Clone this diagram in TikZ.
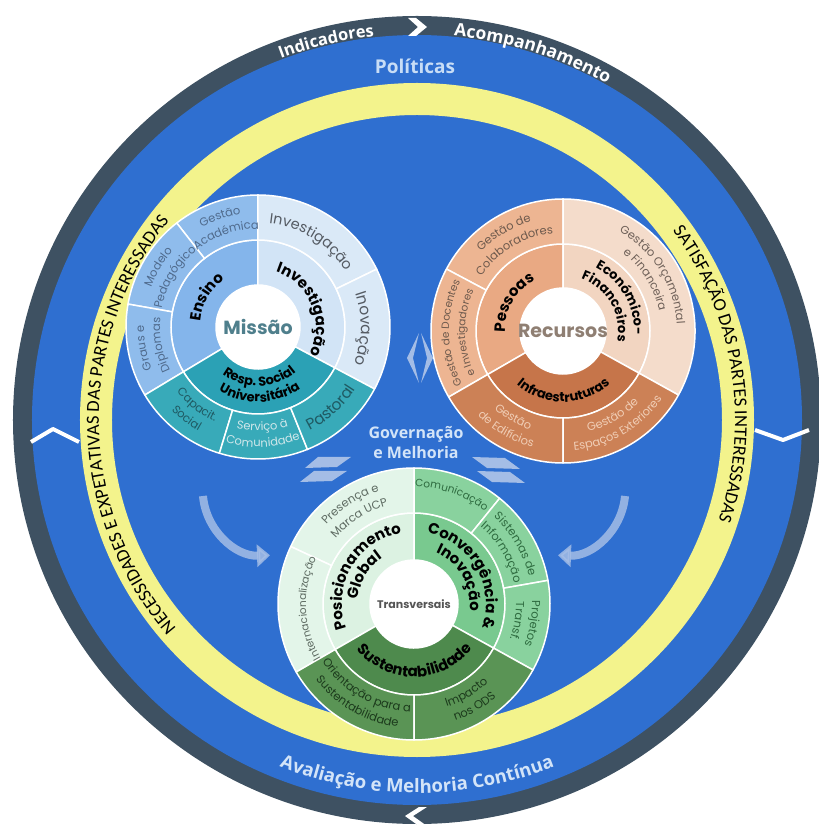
\documentclass[tikz,border=0pt]{standalone}
\usepackage{fontspec}
\usetikzlibrary{decorations.text,arrows.meta}
\newfontfamily\pop{Poppins}
\newfontfamily\ops{Open Sans}
\newfontfamily\carl{Carlito}
\definecolor{ringc}{HTML}{3E5162}
\definecolor{bbg}{HTML}{2F6FD0}
\definecolor{yel}{HTML}{F3F38C}
\definecolor{ensM}{HTML}{84B5EB}
\definecolor{ensO}{HTML}{8FBCEC}
\definecolor{invM}{HTML}{D2E4F6}
\definecolor{invO}{HTML}{DAE9F7}
\definecolor{rspM}{HTML}{2BA1B5}
\definecolor{rspO}{HTML}{38AAB9}
\definecolor{pesM}{HTML}{E9A983}
\definecolor{pesO}{HTML}{EDB592}
\definecolor{ecoM}{HTML}{F2D5C1}
\definecolor{ecoO}{HTML}{F4DCCB}
\definecolor{infM}{HTML}{C6754A}
\definecolor{infO}{HTML}{CC8156}
\definecolor{posM}{HTML}{DCF2E2}
\definecolor{posO}{HTML}{E3F5E9}
\definecolor{conM}{HTML}{79C98F}
\definecolor{conO}{HTML}{89D29E}
\definecolor{susM}{HTML}{4E8A4D}
\definecolor{susO}{HTML}{5A9455}
\definecolor{lightt}{HTML}{D3E4F8}
\definecolor{arrc}{HTML}{A4BDE6}
\definecolor{ensT}{HTML}{4F6A8C}
\definecolor{invT}{HTML}{555B63}
\definecolor{rspT}{HTML}{1F5A63}
\definecolor{rspL}{HTML}{CFE7EA}
\definecolor{pesT}{HTML}{6E5A4D}
\definecolor{ecoT}{HTML}{6E6058}
\definecolor{infT}{HTML}{F0CDB5}
\definecolor{posT}{HTML}{5E6B62}
\definecolor{conT}{HTML}{2E6B3F}
\definecolor{susT}{HTML}{1C3A1C}
\definecolor{misT}{HTML}{4F7F8C}
\definecolor{recT}{HTML}{8F7F73}
\definecolor{traT}{HTML}{555555}
\definecolor{polT}{HTML}{C8DDF6}
\newcommand{\fOs}{\pop\fontsize{11.5}{13}\selectfont}
\newcommand{\fOx}{\pop\fontsize{10.5}{12}\selectfont}
\newcommand{\fOl}{\pop\fontsize{14.5}{16}\selectfont}
\newcommand{\fOL}{\pop\fontsize{15.5}{17}\selectfont}
\newcommand{\fM}{\pop\bfseries\fontsize{15}{16}\selectfont}
\newcommand{\fMs}{\pop\bfseries\fontsize{13}{14}\selectfont}
\newcommand{\sect}[7]{\filldraw[fill=#7,draw=white,line width=1.5pt,line join=round] ([shift={(#1,#2)}]#5:#4) arc[start angle=#5,end angle=#6,radius=#4pt] -- ([shift={(#1,#2)}]#6:#3) arc[start angle=#6,end angle=#5,radius=#3pt] -- cycle;}
\newcommand{\cwt}[8]{\pgfmathsetmacro\angA{#4+#5}\pgfmathsetmacro\angB{#4-#5}\path[decorate,decoration={text along path,text align=center,text color=#6,text={|#7|#8}}] ([shift={(#1,#2)}]\angA:#3) arc[start angle=\angA,end angle=\angB,radius=#3pt];}
\newcommand{\ccwt}[8]{\pgfmathsetmacro\angA{#4-#5}\pgfmathsetmacro\angB{#4+#5}\path[decorate,decoration={text along path,text align=center,text color=#6,text={|#7|#8}}] ([shift={(#1,#2)}]\angA:#3) arc[start angle=\angA,end angle=\angB,radius=#3pt];}
\begin{document}
\begin{tikzpicture}[x=1pt,y=1pt]
\useasboundingbox (-417,-406) rectangle (401,420);
\fill[white] (-417,-406) rectangle (401,420);
% outer rings
\fill[ringc] (0,0) circle (404pt);
\fill[bbg] (0,0) circle (385pt);
\fill[yel,even odd rule] (0,0) circle (337pt) circle (305pt);
% chevrons and zigzags
\fill[white] (-9,402) -- (-1,402) -- (10,393) -- (-1,384) -- (-9,384) -- (1,393) -- cycle;
\fill[white] (10,-387) -- (2,-387) -- (-12,-396) -- (2,-406) -- (10,-406) -- (-4,-396) -- cycle;
\draw[white,line width=4pt,line join=round] (-386,-22) -- (-364,-9) -- (-338,-22);
\draw[white,line width=4pt,line join=round] (338,-10) -- (366,-20) -- (392,-10);
% ring texts
\cwt{0}{0}{386}{103.5}{20}{white}{\ops\bfseries\fontsize{16.5}{16.5}\selectfont}{Indicadores}
\cwt{0}{0}{386}{72.5}{25}{white}{\ops\bfseries\fontsize{17.5}{17.5}\selectfont}{Acompanhamento}
\ccwt{0}{0}{373}{270}{35}{lightt}{\ops\bfseries\fontsize{18.5}{18.5}\selectfont}{Avaliação e Melhoria Contínua}
\node[font=\ops\bfseries\fontsize{19}{19}\selectfont,text=polT] (pol) at (-2,354) {Políticas};
\node[font=\ops\bfseries\fontsize{16}{20}\selectfont,text=lightt,align=center] (gov) at (-1,-23) {Governação\\e Melhoria};
% decorative arrows
\fill[arrc] (2,87) -- (-10,62) -- (2,37) -- (-4,62) -- cycle;
\fill[arrc] (4,87) -- (16,62) -- (4,37) -- (10,62) -- cycle;
\fill[arrc] (-99,-37) -- (-66,-37) -- (-80,-47) -- (-112,-48) -- cycle;
\fill[arrc] (-103,-51) -- (-70,-51) -- (-85,-61) -- (-117,-62) -- cycle;
\fill[arrc] (55,-37) -- (88,-38) -- (103,-49) -- (70,-48) -- cycle;
\fill[arrc] (60,-51) -- (93,-52) -- (108,-63) -- (75,-62) -- cycle;
\coordinate (la) at (-214,-76);
\coordinate (ra) at (208,-76);
\draw[arrc,opacity=0.85,line width=8pt,-{Triangle[length=13pt,width=22pt]}] (la) arc[start angle=185,end angle=272,radius=65pt];
\draw[arrc,opacity=0.85,line width=8pt,-{Triangle[length=13pt,width=22pt]}] (ra) arc[start angle=-5,end angle=-92,radius=65pt];
% ===== Missao =====
\sect{-159}{93}{42}{87}{90}{211}{ensM}
\sect{-159}{93}{42}{87}{-28}{90}{invM}
\sect{-159}{93}{42}{87}{211}{332}{rspM}
\sect{-159}{93}{87}{132}{90}{128}{ensO}
\sect{-159}{93}{87}{132}{128}{170}{ensO}
\sect{-159}{93}{87}{132}{170}{211}{ensO}
\sect{-159}{93}{87}{132}{26}{90}{invO}
\sect{-159}{93}{87}{132}{-28}{26}{invO}
\sect{-159}{93}{87}{132}{211}{253}{rspO}
\sect{-159}{93}{87}{132}{253}{292}{rspO}
\sect{-159}{93}{87}{132}{292}{332}{rspO}
\fill[white] (-159,93) circle (42pt);
\node[font=\pop\bfseries\fontsize{19}{19}\selectfont,text=misT] (mis) at (-159,93) {Missão};
\cwt{-159}{93}{58}{150}{70}{black}{\fM}{Ensino}
\cwt{-159}{93}{58}{22}{80}{black}{\fM}{Investigação}
\ccwt{-159}{93}{59}{271.5}{65}{black}{\fMs}{Resp. Social}
\ccwt{-159}{93}{75}{271.5}{65}{black}{\fMs}{Universitária}
\cwt{-159}{93}{114}{109}{40}{ensT}{\fOs}{Gestão}
\cwt{-159}{93}{98}{109}{40}{ensT}{\fOs}{Académica}
\cwt{-159}{93}{114}{149}{40}{ensT}{\fOs}{Modelo}
\cwt{-159}{93}{98}{149}{40}{ensT}{\fOs}{Pedagógico}
\cwt{-159}{93}{114}{190.5}{40}{ensT}{\fOs}{Graus e}
\cwt{-159}{93}{98}{190.5}{40}{ensT}{\fOs}{Diplomas}
\cwt{-159}{93}{104}{58}{45}{invT}{\fOl}{Investigação}
\cwt{-159}{93}{103}{-1}{45}{invT}{\fOL}{Inovação}
\ccwt{-159}{93}{104}{232}{40}{rspT}{\fOs}{Capacit.}
\ccwt{-159}{93}{120}{232}{40}{rspT}{\fOs}{Social}
\ccwt{-159}{93}{104}{272.5}{40}{rspL}{\fOs}{Serviço à}
\ccwt{-159}{93}{120}{272.5}{40}{rspL}{\fOs}{Comunidade}
\ccwt{-159}{93}{116}{312}{40}{rspT}{\fOL}{Pastoral}
% ===== Recursos =====
\sect{146}{89}{43}{87}{90}{210}{pesM}
\sect{146}{89}{43}{87}{-29}{90}{ecoM}
\sect{146}{89}{43}{87}{210}{331}{infM}
\sect{146}{89}{87}{132}{90}{152}{pesO}
\sect{146}{89}{87}{132}{152}{210}{pesO}
\sect{146}{89}{87}{132}{-29}{90}{ecoO}
\sect{146}{89}{87}{132}{210}{270}{infO}
\sect{146}{89}{87}{132}{270}{331}{infO}
\fill[white] (146,89) circle (43pt);
\node[font=\pop\bfseries\fontsize{19}{19}\selectfont,text=recT] (rec) at (146,89) {Recursos};
\cwt{146}{89}{58}{150}{70}{black}{\fM}{Pessoas}
\cwt{146}{89}{71}{30}{75}{black}{\fMs}{Económico-}
\cwt{146}{89}{55}{30}{85}{black}{\fMs}{Financeiros}
\ccwt{146}{89}{71}{270.5}{70}{black}{\fMs}{Infraestruturas}
\cwt{146}{89}{114}{121}{40}{pesT}{\fOs}{Gestão de}
\cwt{146}{89}{98}{121}{40}{pesT}{\fOs}{Colaboradores}
\cwt{146}{89}{114}{181}{40}{pesT}{\fOx}{Gestão de Docentes}
\cwt{146}{89}{98}{181}{40}{pesT}{\fOx}{e Investigadores}
\cwt{146}{89}{114}{32}{50}{ecoT}{\fOs}{Gestão Orçamental}
\cwt{146}{89}{98}{32}{50}{ecoT}{\fOs}{e Financeira}
\ccwt{146}{89}{104}{240}{40}{infT}{\fOs}{Gestão}
\ccwt{146}{89}{120}{240}{40}{infT}{\fOs}{de Edifícios}
\ccwt{146}{89}{104}{300.5}{40}{infT}{\fOs}{Gestão de}
\ccwt{146}{89}{120}{300.5}{40}{infT}{\fOs}{Espaços Exteriores}
% ===== Transversais =====
\sect{-3}{-184}{44}{91}{90}{210}{posM}
\sect{-3}{-184}{44}{91}{-29}{90}{conM}
\sect{-3}{-184}{44}{91}{210}{331}{susM}
\sect{-3}{-184}{91}{136}{90}{155}{posO}
\sect{-3}{-184}{91}{136}{155}{210}{posO}
\sect{-3}{-184}{91}{136}{51}{90}{conO}
\sect{-3}{-184}{91}{136}{10}{51}{conO}
\sect{-3}{-184}{91}{136}{-29}{10}{conO}
\sect{-3}{-184}{91}{136}{210}{270}{susO}
\sect{-3}{-184}{91}{136}{270}{331}{susO}
\fill[white] (-3,-184) circle (44pt);
\node[font=\pop\bfseries\fontsize{11}{11}\selectfont,text=traT] (tra) at (-3,-184) {Transversais};
\cwt{-3}{-184}{72}{150}{80}{black}{\fM}{Posicionamento}
\cwt{-3}{-184}{56}{150}{80}{black}{\fM}{Global}
\cwt{-3}{-184}{72}{30}{80}{black}{\fM}{Convergência {\&}}
\cwt{-3}{-184}{56}{30}{80}{black}{\fM}{Inovação}
\ccwt{-3}{-184}{73}{270.5}{75}{black}{\fM}{Sustentabilidade}
\cwt{-3}{-184}{118}{122.5}{40}{posT}{\fOs}{Presença e}
\cwt{-3}{-184}{102}{122.5}{40}{posT}{\fOs}{Marca UCP}
\cwt{-3}{-184}{108}{182.5}{40}{posT}{\fOx}{Internacionalização}
\cwt{-3}{-184}{117}{71}{40}{conT}{\fOx}{Comunicação}
\cwt{-3}{-184}{118}{30.5}{40}{conT}{\fOs}{Sistemas de}
\cwt{-3}{-184}{102}{30.5}{40}{conT}{\fOs}{Informação}
\cwt{-3}{-184}{118}{-9.5}{40}{conT}{\fOs}{Projetos}
\cwt{-3}{-184}{102}{-9.5}{40}{conT}{\fOs}{Transf.}
\ccwt{-3}{-184}{108}{240}{40}{susT}{\fOs}{Orientação para a}
\ccwt{-3}{-184}{124}{240}{40}{susT}{\fOs}{Sustentabilidade}
\ccwt{-3}{-184}{108}{300.5}{40}{susT}{\fOs}{Impacto}
\ccwt{-3}{-184}{124}{300.5}{40}{susT}{\fOs}{nos ODS}
% yellow ring texts on top
\cwt{0}{0}{318}{181}{65}{black}{\carl\fontsize{18.5}{18.5}\selectfont}{NECESSIDADES E EXPETATIVAS DAS PARTES INTERESSADAS}
\cwt{0}{0}{318}{9}{55}{black}{\carl\fontsize{18.5}{18.5}\selectfont}{SATISFAÇÃO DAS PARTES INTERESSADAS}
\end{tikzpicture}
\end{document}
